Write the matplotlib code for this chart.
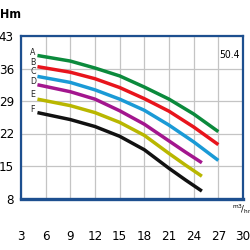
import matplotlib
matplotlib.use("Agg")
import matplotlib.pyplot as plt
from matplotlib import font_manager

# =============================================================
# DATA
# =============================================================
x_long  = [5, 9, 12, 15, 18, 21, 24, 27]
x_short = [5, 9, 12, 15, 18, 21, 23, 25]

curve_a = [38.8, 37.6, 36.1, 34.4, 32.0, 29.4, 26.2, 22.4]
curve_b = [36.4, 35.2, 33.8, 31.9, 29.5, 26.8, 23.4, 19.6]
curve_c = [34.3, 33.0, 31.4, 29.4, 27.0, 23.8, 20.2, 16.2]
curve_d = [32.5, 31.0, 29.4, 26.9, 24.0, 20.4, 18.0, 15.7]
curve_e = [29.4, 28.0, 26.5, 24.4, 21.6, 17.7, 15.2, 12.8]
curve_f = [26.5, 25.0, 23.5, 21.4, 18.5, 14.5, 12.0, 9.6]

labels  = ["A", "B", "C", "D", "E", "F"]
label_y = [39.5, 37.4, 35.3, 33.1, 30.3, 27.1]

x_ticks = [3, 6, 9, 12, 15, 18, 21, 24, 27, 30]
y_ticks = [8, 15, 22, 29, 36, 43]

series = [
    (x_long,  curve_a, "#0b8a3c"),
    (x_long,  curve_b, "#e8141c"),
    (x_long,  curve_c, "#1a9ad6"),
    (x_short, curve_d, "#a3168e"),
    (x_short, curve_e, "#b9b700"),
    (x_short, curve_f, "#111111"),
]

FRAME = "#1d4f8f"

def tf(size, weight="normal"):
    # condensed face, closest to the narrow lettering of the original sheet
    return font_manager.FontProperties(family="DejaVu Sans", stretch="condensed",
                                       size=size, weight=weight)

# =============================================================
# PLOT
# =============================================================
fig = plt.figure(figsize=(2.5, 2.5), dpi=100)
ax = fig.add_axes([0.084, 0.206, 0.888, 0.650])

for xs, ys, col in series:
    ax.plot(xs, ys, color=col, lw=2.5, solid_capstyle="butt", zorder=3)

for lab, ly in zip(labels, label_y):
    ax.text(4.45, ly, lab, ha="center", va="center",
            fontproperties=tf(6.3), color="#222222")

ax.set_xlim(3, 30)
ax.set_ylim(8, 43)
ax.set_xticks(x_ticks)
ax.set_yticks(y_ticks)
ax.set_xticklabels([str(v) for v in x_ticks], fontproperties=tf(9.5))
ax.set_yticklabels([str(v) for v in y_ticks], fontproperties=tf(9.5))
ax.tick_params(axis="x", length=0, pad=23)
ax.tick_params(axis="y", length=0, pad=5)
ax.grid(True, color="#c4c4c4", lw=0.9)
ax.set_axisbelow(True)

for side, sp in ax.spines.items():
    sp.set_color(FRAME)
    sp.set_linewidth(1.6)
ax.spines["bottom"].set_linewidth(2.4)

ax.text(28.4, 39.0, "50.4", ha="center", va="center", fontproperties=tf(7.5))
fig.text(0.042, 0.944, "Hm", ha="center", va="center", fontproperties=tf(9, "bold"))
fig.text(0.965, 0.165, r"$^{\mathrm{m3}}\!/_{\mathrm{hr}}$", fontsize=6,
         ha="center", va="center")

fig.savefig("out.png", dpi=100)
